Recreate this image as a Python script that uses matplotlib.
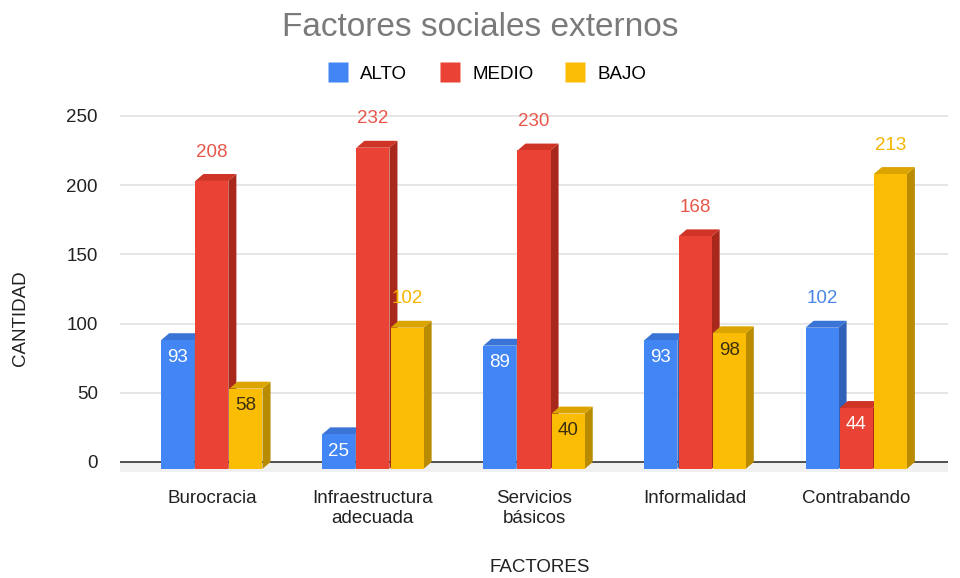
import numpy as np
import matplotlib
matplotlib.use("Agg")
import matplotlib.pyplot as plt
from matplotlib.patches import Polygon, Rectangle
from matplotlib.lines import Line2D

plt.rcParams['font.family'] = ['Liberation Sans', 'DejaVu Sans']

# datos
categorias = ['Burocracia', 'Infraestructura\nadecuada', 'Servicios\nbásicos', 'Informalidad', 'Contrabando']
series = ['ALTO', 'MEDIO', 'BAJO']
alto = [93, 25, 89, 93, 102]
medio = [208, 232, 230, 168, 44]
bajo = [58, 102, 40, 98, 213]
valores = [alto, medio, bajo]

# etiquetas que van encima de la barra (serie, categoria); las demas van dentro
fuera = {(1, 0), (1, 1), (1, 2), (1, 3), (2, 1), (0, 4), (2, 4)}

color_frente = ['#4285F4', '#EA4335', '#FBBC04']
color_lado = ['#2f62b8', '#a8281c', '#b98b00']
color_tapa = ['#3a74d6', '#cf3426', '#dba400']
color_fuera = ['#4a86e8', '#e8564a', '#f5b400']
color_dentro = ['white', 'white', '#3a2f10']

fig = plt.figure(figsize=(9.6, 5.78), dpi=100)
ax = fig.add_axes([0.125, 0.172, 0.8625, 0.6395])

ancho = 0.205
paso = 0.212
dx = 0.05   # profundidad en x (unidades de datos)
dy = 5.0    # profundidad en y

ax.set_xlim(-0.57, 4.57)
ax.set_ylim(-12, 255)

# rejilla
for t in range(0, 251, 50):
    ax.axhline(t, color='#e2e2e2' if t else '#333333', lw=1.2, zorder=0 if t else 1)
# suelo gris
ax.add_patch(Rectangle((-0.57, -dy - 2), 5.14, dy + 2, color='#f0f0f0', zorder=0.5, lw=0))

x = np.arange(len(categorias))
z = 2
for c in range(len(categorias)):
    for s in range(3):
        v = valores[s][c]
        x0 = x[c] + (s - 1) * paso - ancho / 2
        # cara frontal desplazada hacia abajo
        y0 = -dy
        y1 = v - dy
        lado = Polygon([(x0 + ancho, y0), (x0 + ancho + dx, y0 + dy),
                        (x0 + ancho + dx, y1 + dy), (x0 + ancho, y1)],
                       closed=True, fc=color_lado[s], ec='none', zorder=z)
        tapa = Polygon([(x0, y1), (x0 + ancho, y1), (x0 + ancho + dx, y1 + dy), (x0 + dx, y1 + dy)],
                       closed=True, fc=color_tapa[s], ec='none', zorder=z)
        ax.add_patch(lado)
        ax.add_patch(tapa)
        ax.bar(x0, v, width=ancho, bottom=y0, align='edge', color=color_frente[s], zorder=z + 0.5, lw=0)
        xc = x0 + ancho / 2
        if (s, c) in fuera:
            ax.annotate(str(v), (xc, v), xytext=(0, 22), textcoords='offset pixels',
                        ha='center', va='center', fontsize=13.5, color=color_fuera[s], zorder=100)
        else:
            ax.annotate(str(v), (xc, y1), xytext=(0, -17), textcoords='offset pixels',
                        ha='center', va='center', fontsize=13.5, color=color_dentro[s], zorder=100)
        z += 1

ax.set_yticks(range(0, 251, 50))
ax.set_yticklabels([str(t) for t in range(0, 251, 50)], fontsize=13.5, color='#222222')
ax.set_xticks(x)
ax.set_xticklabels(categorias, fontsize=13.5, color='#222222', linespacing=1.25)
ax.tick_params(axis='both', length=0)
ax.tick_params(axis='y', pad=16)
ax.tick_params(axis='x', pad=8)
for sp in ax.spines.values():
    sp.set_visible(False)

fig.text(0.5, 0.953, 'Factores sociales externos', ha='center', va='center', fontsize=24, color='#7a7a7a')
fig.text(0.5625, 0.019, 'FACTORES', ha='center', va='center', fontsize=13.5, color='#222222')
fig.text(0.021, 0.45, 'CANTIDAD', ha='center', va='center', rotation=90, fontsize=13.5, color='#222222')

handles = [Line2D([0], [0], marker='s', ls='none', markersize=14, markerfacecolor=col, markeredgecolor='none')
           for col in color_frente]
fig.legend(handles, series, loc='center', bbox_to_anchor=(0.508, 0.872), ncol=3, frameon=False,
           fontsize=13.5, handletextpad=0.7, columnspacing=1.75, handlelength=1.0)

fig.savefig('out.png', dpi=100)
